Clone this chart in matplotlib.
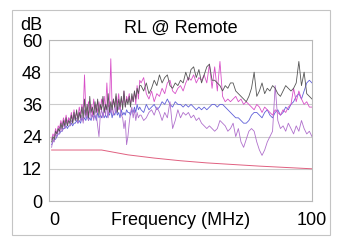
import numpy as np
import matplotlib
matplotlib.use('Agg')
import matplotlib.pyplot as plt
from matplotlib.patches import Rectangle

plt.rcParams['font.family'] = ['Liberation Sans', 'DejaVu Sans']

# Frequenzachse: dicht bis 34.5 MHz, danach 1-MHz-Schritte
freq = np.concatenate([np.arange(1, 35, 0.5), np.arange(35, 101)])

pair_black = [
    22, 24, 23, 26, 25, 27, 26, 29, 27, 30, 28, 31, 28, 30, 29, 32, 29, 33, 30,
    34, 30, 33, 31, 35, 31, 38, 32, 36, 31, 39, 33, 35, 32, 37, 33, 38, 32, 36, 34,
    39, 33, 36, 34, 40, 33, 37, 34, 38, 35, 40, 33, 38, 35, 39, 34, 41, 35, 38, 36,
    39, 35, 40, 37, 41, 38, 42, 40, 43,
    43, 41, 44, 40, 42, 45, 43, 47, 44, 46, 47, 43, 42, 44, 43, 45, 44, 48, 45, 49,
    50, 46, 49, 44, 47, 50, 51, 45, 45, 44, 43, 41, 43, 42, 44, 44, 41, 40, 39, 38,
    37, 39, 42, 48, 39, 41, 44, 40, 42, 41, 43, 42, 40, 39, 41, 43, 42, 41, 42, 44,
    52, 43, 48, 40, 39, 38]

pair_magenta = [
    23, 25, 24, 27, 25, 28, 27, 30, 28, 31, 29, 32, 29, 31, 30, 33, 30, 34, 31,
    33, 31, 35, 32, 36, 33, 47, 34, 32, 37, 33, 36, 32, 38, 34, 36, 33, 37, 34, 38,
    35, 39, 34, 44, 35, 36, 53, 35, 38, 35, 39, 36, 40, 34, 38, 36, 41, 35, 39, 37,
    40, 36, 39, 37, 41, 36, 43, 38, 45,
    44, 46, 40, 38, 41, 37, 40, 39, 42, 40, 44, 45, 41, 40, 42, 43, 41, 44, 46, 45,
    47, 44, 46, 45, 47, 44, 51, 42, 50, 41, 52, 39, 37, 38, 37, 38, 39, 37, 38, 36,
    37, 36, 35, 34, 36, 35, 33, 35, 34, 33, 32, 34, 33, 32, 34, 33, 35, 36, 42, 37,
    41, 38, 36, 37, 35, 35]

pair_blue = [
    21, 22, 23, 23, 24, 25, 25, 26, 26, 27, 27, 28, 27, 28, 28, 29, 28, 29, 29,
    30, 29, 30, 29, 31, 30, 31, 30, 32, 30, 31, 30, 32, 31, 32, 30, 33, 31, 32, 31,
    33, 31, 32, 31, 33, 32, 34, 31, 33, 32, 34, 32, 33, 31, 34, 32, 33, 32, 34, 33,
    33, 32, 34, 33, 35, 33, 36, 34, 35,
    34, 33, 36, 34, 35, 36, 34, 35, 37, 36, 38, 36, 35, 37, 36, 36, 35, 36, 35, 36,
    35, 34, 35, 34, 35, 34, 35, 36, 36, 35, 36, 36, 35, 34, 33, 32, 31, 31, 30, 29,
    29, 30, 32, 33, 33, 32, 31, 33, 34, 32, 31, 33, 34, 32, 33, 35, 34, 36, 37, 39,
    40, 38, 41, 44, 45, 44]

pair_purple = [
    20, 23, 22, 25, 24, 27, 25, 28, 26, 29, 27, 30, 28, 31, 28, 30, 29, 32, 30,
    31, 29, 33, 30, 32, 29, 34, 31, 33, 30, 35, 31, 33, 30, 34, 32, 28, 24, 32, 34,
    31, 35, 32, 36, 31, 37, 33, 35, 32, 36, 33, 37, 34, 35, 32, 31, 27, 30, 21, 24,
    29, 33, 35, 31, 34, 30, 33, 31, 32,
    32, 30, 31, 33, 34, 32, 35, 33, 30, 33, 31, 37, 27, 30, 34, 31, 33, 32, 33, 31,
    32, 30, 31, 29, 28, 27, 28, 27, 26, 27, 30, 29, 28, 26, 27, 29, 24, 27, 22, 20,
    23, 26, 27, 26, 22, 19, 17, 19, 22, 24, 26, 43, 30, 27, 28, 26, 29, 27, 25, 28,
    26, 30, 27, 25, 26, 24]

# Grenzwert
limit_freq = [1, 20, 30, 40, 50, 60, 70, 80, 90, 100]
limit_db = [19, 19, 17.2, 16.0, 15.0, 14.2, 13.6, 13.0, 12.5, 12.0]

fig = plt.figure(figsize=(3.42, 2.47), dpi=100)
ax = fig.add_axes([49/342, 1 - 201/247, (312 - 49)/342, (201 - 40)/247])

ax.plot(limit_freq, limit_db, color='#e06080', lw=0.7)
ax.plot(freq, pair_blue, color='#6060d8', lw=0.6)
ax.plot(freq, pair_purple, color='#b070cc', lw=0.6)
ax.plot(freq, pair_magenta, color='#d850c8', lw=0.6)
ax.plot(freq, pair_black, color='#555555', lw=0.6)

ax.set_xlim(0, 100)
ax.set_ylim(0, 60)
ax.set_yticks([0, 12, 24, 36, 48, 60])
ax.set_xticks([0, 100])
ax.set_xticklabels(['0', '100'])
ax.get_xticklabels()[0].set_horizontalalignment('left')
ax.tick_params(length=0, labelsize=13)
ax.tick_params(axis='y', pad=5)
ax.tick_params(axis='x', pad=8)
for lbl in ax.get_yticklabels():
    lbl.set_verticalalignment('center_baseline')
ax.grid(axis='y', color='#cccccc', lw=0.8)
ax.set_axisbelow(True)
for s in ax.spines.values():
    s.set_color('#b8b8b8')
    s.set_linewidth(0.8)

ax.annotate('Frequency (MHz)', xy=(0.5, 0), xycoords='axes fraction',
            xytext=(0, -8), textcoords='offset points',
            ha='center', va='top', fontsize=13)
ax.set_title('RL @ Remote', fontsize=13, pad=5)
fig.text(20/342, 1 - 30/247, 'dB', ha='left', va='baseline', fontsize=13)

# äußerer Rahmen
fig.patches.append(Rectangle((12/342, 1 - 235/247), 318/342, 225/247,
                             transform=fig.transFigure, fill=False,
                             edgecolor='#c4c4c4', lw=0.8))

fig.savefig('out.png', dpi=100)
